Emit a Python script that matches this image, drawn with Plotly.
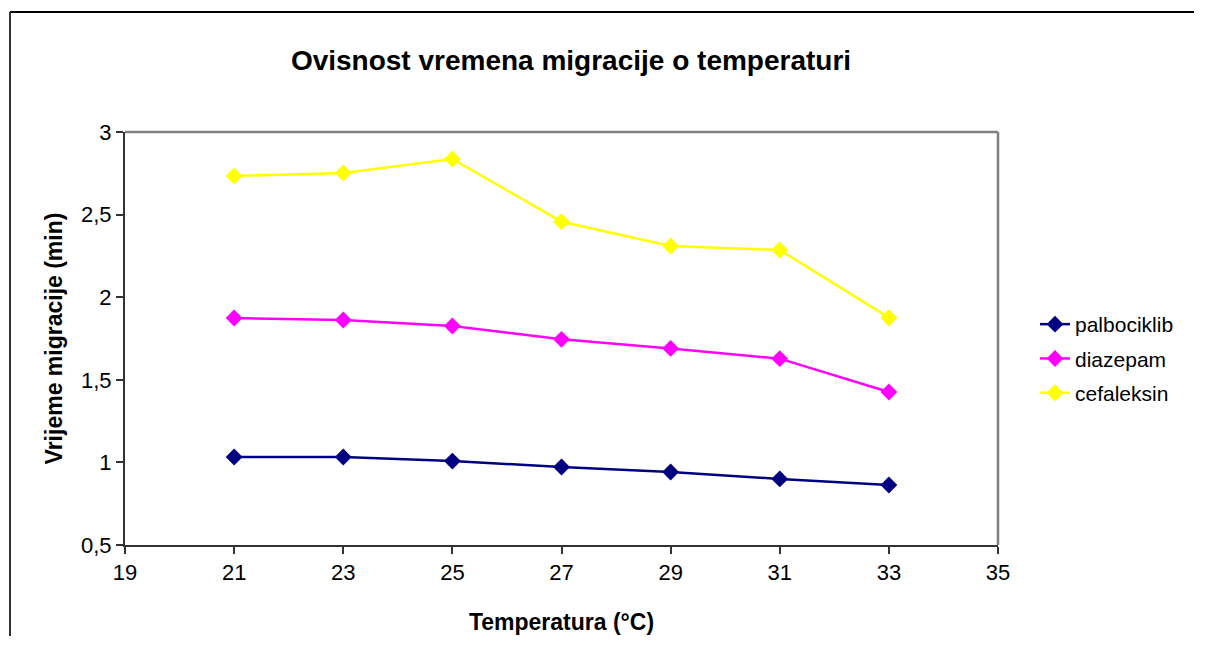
import plotly.graph_objects as go

temperature = [21, 23, 25, 27, 29, 31, 33]
palbociklib = [1.033, 1.033, 1.008, 0.972, 0.942, 0.900, 0.863]
diazepam = [1.874, 1.862, 1.826, 1.745, 1.690, 1.628, 1.426]
cefaleksin = [2.734, 2.752, 2.837, 2.457, 2.310, 2.286, 1.876]

series = [
    ("palbociklib", palbociklib, "#000080"),
    ("diazepam", diazepam, "#FF00FF"),
    ("cefaleksin", cefaleksin, "#FFFF00"),
]

fig = go.Figure()
for name, vals, col in series:
    fig.add_trace(go.Scatter(
        x=temperature, y=vals, name=name, mode="lines+markers",
        line=dict(color=col, width=2.5),
        marker=dict(symbol="diamond", size=13, color=col),
        legendgroup=name,
    ))

FONT = "Liberation Sans, Arial, sans-serif"
OFF = 8  # page body margin
W, H = 1190, 632
# plot area in reference (page) pixels
PL, PR, PT, PB = 125, 998, 132, 545
L, T = PL - OFF, PT - OFF
R, B = W - (PR - OFF), H - (PB - OFF)
pw, ph = PR - PL, PB - PT

def px(xp):
    return (xp - PL) / pw

def py(yp):
    return (PB - yp) / ph

fig.update_layout(
    width=W, height=H,
    margin=dict(l=L, r=R, t=T, b=B, autoexpand=False),
    paper_bgcolor="white", plot_bgcolor="white",
    separators=", ",
    font=dict(family=FONT, size=21, color="black"),
    title=dict(text="<b>Ovisnost vremena migracije o temperaturi</b>",
               x=px(571), xref="paper", xanchor="center",
               y=1 - (60 - OFF) / H, yanchor="middle",
               font=dict(size=28, family=FONT, color="black")),
    xaxis=dict(range=[19, 35], tickvals=[19, 21, 23, 25, 27, 29, 31, 33, 35],
               showgrid=False, zeroline=False, showline=True, linecolor="#333333", linewidth=2,
               ticks="outside", ticklen=7, tickcolor="#333333", tickwidth=1.5,
               tickfont=dict(size=22, family=FONT),
               title=dict(text="<b>Temperatura (°C)</b>", font=dict(size=23, family=FONT), standoff=29)),
    yaxis=dict(range=[0.5, 3], tickvals=[0.5, 1, 1.5, 2, 2.5, 3],
               showgrid=False, zeroline=False, showline=True, linecolor="#333333", linewidth=2,
               ticks="outside", ticklen=7, tickcolor="#333333", tickwidth=1.5,
               tickfont=dict(size=22, family=FONT),
               title=dict(text="<b>Vrijeme migracije (min)</b>", font=dict(size=23, family=FONT), standoff=12)),
    legend=dict(x=px(1035), xanchor="left", y=py(304), yanchor="top",
                font=dict(size=21, family=FONT), traceorder="grouped", tracegroupgap=4,
                bgcolor="rgba(0,0,0,0)"),
    showlegend=True,
    shapes=[
        dict(type="line", xref="paper", yref="paper", x0=0, x1=1, y0=1, y1=1,
             line=dict(color="#808080", width=2.5)),
        dict(type="line", xref="paper", yref="paper", x0=1, x1=1, y0=0, y1=1,
             line=dict(color="#808080", width=2.5)),
        dict(type="line", xref="paper", yref="paper", x0=px(10), x1=px(OFF + W - 4),
             y0=py(12), y1=py(12), line=dict(color="black", width=2)),
        dict(type="line", xref="paper", yref="paper", x0=px(10), x1=px(10),
             y0=py(12), y1=py(OFF + H - 4), line=dict(color="#333333", width=2)),
    ],
)

fig.write_html("out.html")
